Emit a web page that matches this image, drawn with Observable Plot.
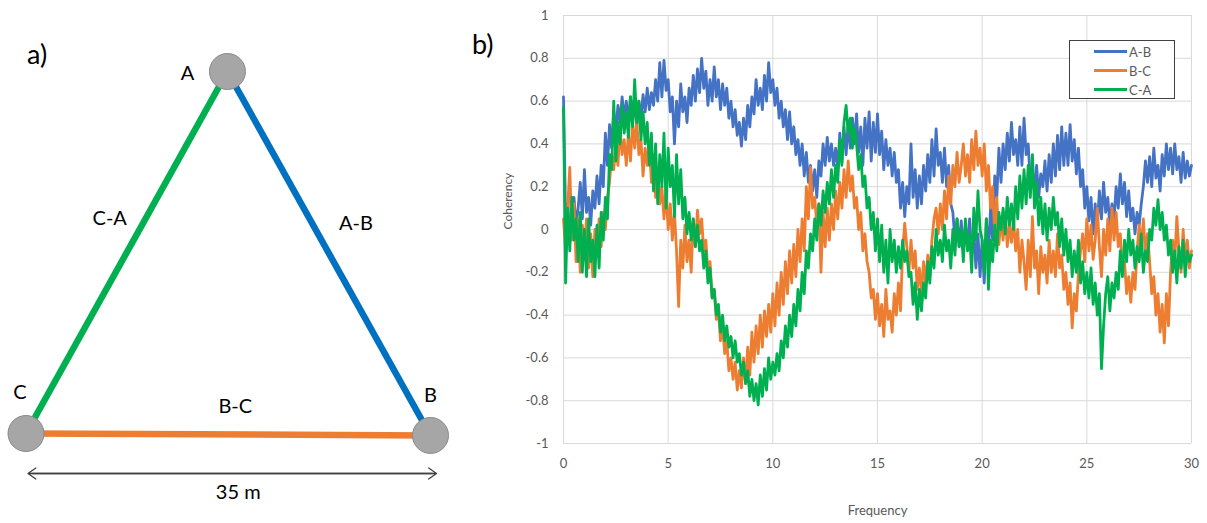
<!DOCTYPE html>
<html><head><meta charset="utf-8">
<script src="https://cdn.jsdelivr.net/npm/d3@7"></script>
<script src="https://cdn.jsdelivr.net/npm/@observablehq/plot@0.6"></script>
<style>
body{margin:0;background:#fff;font-family:Lato,"Open Sans",sans-serif;}
#wrap{position:relative;width:1207px;height:523px;overflow:hidden;background:#fff;}
#panelA{position:absolute;left:0;top:0;}
#panelB{position:absolute;left:470px;top:0;}
.plabel{position:absolute;font-size:27px;color:#000;line-height:1;}
#legend{position:absolute;left:1069px;top:40px;width:106px;height:59px;border:1.5px solid #404040;box-sizing:border-box;background:#fff;}
.lrow{position:absolute;left:0;height:19px;display:flex;align-items:center;font-size:13px;color:#595959;}
.lrow span.sw{display:inline-block;width:33px;height:3px;margin-left:24px;margin-right:2px;}
</style></head>
<body>
<div id="wrap">
  <div id="panelA"></div>
  <div id="panelB"></div>
  <div class="plabel" style="left:27px;top:40px;">a)</div>
  <div class="plabel" style="left:472px;top:30px;">b)</div>
  <div id="legend"></div>
</div>
<script>
// ---------- Panel b data: coherency vs frequency (0 to 30, step 0.1) ----------
const freqStep = 0.1;
const xTicks = [0, 5, 10, 15, 20, 25, 30];
const yTicks = [-1, -0.8, -0.6, -0.4, -0.2, 0, 0.2, 0.4, 0.6, 0.8, 1];
const seriesNames = ["A-B", "B-C", "C-A"];
const seriesColors = ["#4472c4", "#ed7d31", "#00b050"];

const cohAB = [
0.62,0.05,0.12,-0.05,0.08,0.15,0.02,0.10,0.22,0.05,
0.28,0.08,0.15,0.02,0.18,0.10,0.25,0.12,0.30,0.20,
0.45,0.30,0.49,0.38,0.55,0.45,0.58,0.50,0.62,0.52,
0.60,0.50,0.62,0.52,0.58,0.48,0.60,0.52,0.63,0.55,
0.66,0.56,0.64,0.58,0.70,0.60,0.78,0.62,0.79,0.65,
0.70,0.55,0.62,0.40,0.60,0.48,0.68,0.55,0.62,0.50,
0.66,0.58,0.72,0.60,0.75,0.64,0.80,0.66,0.74,0.58,
0.70,0.60,0.76,0.62,0.70,0.56,0.68,0.58,0.66,0.52,
0.60,0.48,0.56,0.44,0.50,0.39,0.52,0.42,0.58,0.48,
0.62,0.54,0.70,0.58,0.66,0.56,0.72,0.60,0.78,0.64,
0.70,0.58,0.66,0.52,0.60,0.48,0.56,0.42,0.55,0.40,
0.48,0.35,0.42,0.30,0.40,0.25,0.36,0.22,0.30,0.18,
0.28,0.15,0.32,0.25,0.40,0.30,0.43,0.32,0.40,0.30,
0.38,0.28,0.45,0.32,0.48,0.35,0.50,0.38,0.52,0.40,
0.54,0.36,0.48,0.30,0.52,0.38,0.55,0.32,0.50,0.36,
0.54,0.35,0.46,0.28,0.42,0.30,0.38,0.25,0.36,0.22,
0.28,0.10,0.22,0.06,0.20,0.12,0.40,0.15,0.28,0.10,
0.25,0.12,0.30,0.18,0.35,0.22,0.42,0.25,0.47,0.30,
0.36,0.22,0.38,0.20,0.30,0.12,0.08,-0.05,0.05,-0.08,
0.04,-0.10,0.02,-0.08,0.05,-0.12,0.00,-0.18,-0.02,-0.22,
-0.05,-0.25,0.05,-0.12,0.10,-0.05,0.25,0.15,0.38,0.22,
0.40,0.28,0.45,0.32,0.50,0.35,0.42,0.30,0.48,0.30,
0.52,0.35,0.40,0.22,0.28,0.18,0.30,0.15,0.26,0.20,
0.32,0.18,0.35,0.22,0.40,0.25,0.44,0.28,0.48,0.30,
0.45,0.30,0.49,0.32,0.42,0.26,0.38,0.20,0.28,0.10,
0.20,0.04,0.15,-0.02,0.12,0.02,0.18,0.05,0.22,0.08,
0.15,0.02,0.12,0.05,0.20,0.10,0.26,0.12,0.22,0.06,
0.18,0.04,0.10,-0.02,0.08,0.02,0.12,0.20,0.32,0.22,
0.34,0.20,0.38,0.24,0.30,0.18,0.35,0.25,0.40,0.28,
0.38,0.26,0.40,0.28,0.34,0.22,0.36,0.24,0.32,0.25,
0.30];

const cohBC = [
0.05,-0.10,0.10,0.29,-0.05,0.12,-0.15,0.05,-0.20,0.02,
-0.10,0.05,-0.18,-0.02,-0.22,0.00,-0.12,0.05,-0.08,0.08,
0.00,0.15,0.22,0.35,0.28,0.40,0.30,0.48,0.35,0.42,
0.30,0.45,0.32,0.50,0.38,0.51,0.35,0.42,0.25,0.38,
0.30,0.40,0.22,0.35,0.15,0.28,0.12,0.20,0.05,0.18,
0.00,0.12,-0.05,0.08,-0.10,-0.36,-0.05,-0.18,0.02,-0.15,
-0.05,-0.20,0.05,-0.08,0.09,-0.02,0.05,-0.10,-0.05,-0.20,
-0.15,-0.32,-0.28,-0.42,-0.38,-0.52,-0.45,-0.58,-0.52,-0.66,
-0.60,-0.70,-0.62,-0.75,-0.66,-0.74,-0.60,-0.72,-0.55,-0.68,
-0.48,-0.62,-0.45,-0.58,-0.40,-0.55,-0.38,-0.50,-0.35,-0.48,
-0.30,-0.45,-0.25,-0.40,-0.20,-0.35,-0.15,-0.30,-0.10,-0.25,
-0.07,-0.22,0.00,-0.15,0.05,-0.10,0.20,0.05,0.29,0.10,
0.15,0.02,0.12,-0.20,0.08,-0.08,0.10,-0.05,0.12,0.00,
0.18,0.05,0.22,0.10,0.28,0.15,0.32,0.18,0.25,0.10,
0.15,0.00,0.08,-0.10,-0.02,-0.15,-0.20,-0.32,-0.28,-0.42,
-0.30,-0.45,-0.35,-0.50,-0.28,-0.42,-0.38,-0.48,-0.30,-0.40,
-0.25,-0.38,-0.10,0.03,-0.08,-0.20,-0.05,-0.18,-0.10,-0.28,
-0.18,-0.30,-0.15,-0.25,-0.12,-0.22,-0.05,0.05,0.10,-0.02,
0.12,0.00,0.18,0.05,0.25,0.12,0.30,0.20,0.36,0.22,
0.30,0.40,0.25,0.35,0.22,0.42,0.28,0.46,0.30,0.38,
0.25,0.40,0.18,0.30,0.10,0.20,-0.02,0.15,-0.07,0.05,
-0.05,0.08,-0.08,0.02,-0.06,0.05,-0.10,0.00,-0.20,-0.05,
-0.15,-0.28,-0.05,-0.22,0.06,-0.18,-0.10,-0.30,-0.08,-0.20,
-0.12,-0.25,-0.05,-0.20,-0.10,-0.22,-0.02,-0.18,-0.12,-0.28,
-0.20,-0.35,-0.25,-0.46,-0.30,-0.38,-0.20,-0.10,-0.02,-0.15,
0.05,-0.10,0.02,-0.14,-0.05,0.10,-0.08,-0.22,0.00,-0.12,
0.05,-0.10,0.10,-0.05,0.08,-0.08,-0.02,-0.20,-0.15,-0.30,
-0.22,-0.34,-0.20,-0.28,-0.10,0.02,-0.08,0.05,-0.12,-0.02,
-0.15,-0.30,-0.22,-0.40,-0.30,-0.48,-0.35,-0.53,-0.30,-0.45,
-0.20,-0.05,-0.15,0.06,-0.10,-0.20,0.00,-0.15,-0.05,-0.18,
-0.10];

const cohCA = [
0.57,-0.25,0.10,-0.10,0.15,-0.05,0.05,-0.15,0.08,-0.20,
0.00,-0.22,0.05,-0.15,-0.05,-0.22,0.02,-0.18,0.08,-0.05,
0.15,0.05,0.35,0.28,0.60,0.32,0.50,0.40,0.58,0.45,
0.55,0.43,0.62,0.48,0.70,0.50,0.60,0.42,0.55,0.40,
0.50,0.30,0.45,0.18,0.40,0.12,0.35,0.20,0.45,0.10,
0.38,0.20,0.30,0.06,0.35,0.12,0.28,0.05,0.15,-0.02,
0.08,-0.05,0.05,-0.08,0.02,-0.10,-0.05,-0.18,-0.10,-0.25,
-0.18,-0.32,-0.28,-0.40,-0.35,-0.48,-0.40,-0.52,-0.45,-0.55,
-0.50,-0.60,-0.52,-0.62,-0.58,-0.68,-0.62,-0.72,-0.66,-0.78,
-0.70,-0.80,-0.72,-0.82,-0.68,-0.78,-0.65,-0.75,-0.60,-0.70,
-0.62,-0.68,-0.58,-0.66,-0.52,-0.60,-0.45,-0.55,-0.40,-0.50,
-0.35,-0.45,-0.28,-0.38,-0.20,-0.30,-0.10,-0.18,-0.02,-0.10,
0.05,-0.05,0.12,0.02,0.18,0.08,0.22,0.12,0.28,0.15,
0.30,0.22,0.42,0.30,0.50,0.58,0.45,0.52,0.38,0.48,
0.40,0.28,0.35,0.20,0.25,0.10,0.15,0.00,0.08,-0.10,
0.05,-0.15,0.02,-0.20,-0.05,-0.25,0.00,-0.15,-0.05,-0.20,
-0.08,-0.18,-0.05,-0.15,-0.10,-0.22,-0.20,-0.35,-0.25,-0.42,
-0.28,-0.38,-0.25,-0.32,-0.15,-0.25,-0.08,-0.18,0.00,-0.12,
-0.05,-0.15,0.02,-0.10,-0.05,-0.18,0.00,-0.12,0.05,-0.08,
0.00,-0.15,0.05,-0.10,-0.02,-0.20,0.10,-0.05,0.18,0.00,
-0.05,-0.20,0.05,-0.28,-0.05,-0.15,0.02,-0.10,0.08,0.00,
0.10,-0.02,0.15,0.02,0.12,0.00,0.20,0.05,0.25,0.10,
0.28,0.12,0.30,0.15,0.35,0.10,0.22,0.02,0.15,-0.02,
0.12,-0.05,0.10,0.00,0.15,0.02,0.08,-0.08,0.05,-0.12,
0.00,-0.15,-0.05,-0.22,-0.10,-0.20,-0.05,-0.25,-0.15,-0.30,
-0.20,-0.32,-0.18,-0.35,-0.25,-0.40,-0.30,-0.65,-0.45,-0.30,
-0.22,-0.38,-0.25,-0.32,-0.20,-0.28,-0.10,-0.22,-0.05,-0.15,
0.00,-0.12,-0.05,-0.18,-0.08,-0.15,-0.02,-0.20,-0.10,-0.15,
0.00,-0.05,0.10,0.02,0.14,0.00,0.08,-0.05,0.02,-0.12,
-0.05,-0.20,-0.10,-0.25,-0.08,-0.18,-0.05,-0.22,-0.10,-0.15,
-0.12];

// ---------- Panel a data: station layout (metres) ----------
const stationNames = ["A", "B", "C"];
const stationX = [17.43, 35, 0];
const stationY = [31.3, -0.17, 0];
const edgeNames = ["C-A", "A-B", "B-C"];
const edgeFrom = ["C", "A", "B"];
const edgeTo = ["A", "B", "C"];
const baselineLength = 35; // m

// ---------- styles ----------
const edgeColors = {"C-A": "#00b050", "A-B": "#0070c0", "B-C": "#ed7d31"};
const nodeLabelOffset = {A: [-40, 2], B: [0, -40], C: [-6, -41]};
const edgeLabelOffset = {"C-A": [-17, -34], "A-B": [27, -30], "B-C": [7, -28]};

// ---------- Panel a ----------
const stations = stationNames.map((n, i) => ({name: n, x: stationX[i], y: stationY[i]}));
const byName = Object.fromEntries(stations.map(s => [s.name, s]));
const edges = edgeNames.map((n, i) => ({name: n, a: byName[edgeFrom[i]], b: byName[edgeTo[i]]}));
const dimY = byName.C.y;

const marksA = [
  Plot.link(edges, {x1: d => d.a.x, y1: d => d.a.y, x2: d => d.b.x, y2: d => d.b.y,
    stroke: d => edgeColors[d.name], strokeWidth: 6.5, strokeLinecap: "butt"}),
  // dimension arrow: two overlapping arrows, one head at each end
  Plot.arrow([0], {x1: () => byName.B.x, y1: () => dimY, x2: () => byName.C.x, y2: () => dimY, dx: 2, dy: 40,
    stroke: "#404040", strokeWidth: 1.3, headLength: 11, headAngle: 70}),
  Plot.arrow([0], {x1: () => byName.C.x, y1: () => dimY, x2: () => byName.B.x, y2: () => dimY, dx: 6, dy: 40,
    stroke: "#404040", strokeWidth: 1.3, headLength: 11, headAngle: 70}),
  Plot.text([baselineLength], {x: d => d / 2, y: () => dimY, dx: 10, dy: 59,
    text: d => `${d} m`, fontSize: 20, fill: "#000"}),
  Plot.dot(stations, {x: "x", y: "y", r: 18, fill: "#a6a6a6", stroke: "#8a8a8a", strokeWidth: 1})
];
for (const s of stations) {
  const [dx, dy] = nodeLabelOffset[s.name];
  marksA.push(Plot.text([s], {x: "x", y: "y", text: "name", dx, dy, fontSize: 20, fill: "#000"}));
}
for (const e of edges) {
  const [dx, dy] = edgeLabelOffset[e.name];
  marksA.push(Plot.text([e], {x: d => (d.a.x + d.b.x) / 2, y: d => (d.a.y + d.b.y) / 2,
    text: "name", dx, dy, fontSize: 20, fill: "#000"}));
}

const plotA = Plot.plot({
  width: 470, height: 523, margin: 0,
  x: {domain: [0, 35], range: [25.5, 430], axis: null},
  y: {domain: [0, 31.3], range: [433, 71], axis: null},
  color: {type: "identity"},
  style: {fontFamily: "Lato, 'Open Sans', sans-serif", background: "transparent", overflow: "visible"},
  marks: marksA
});
document.getElementById("panelA").appendChild(plotA);

// ---------- Panel b ----------
const allSeries = [cohAB, cohBC, cohCA];
const rows = [];
seriesNames.forEach((name, k) => {
  allSeries[k].forEach((v, i) => rows.push({series: name, f: +(i * freqStep).toFixed(1), v}));
});

const plotB = Plot.plot({
  width: 737, height: 523,
  marginLeft: 93, marginRight: 16, marginTop: 15, marginBottom: 80,
  x: {domain: [0, 30]},
  y: {domain: [-1, 1]},
  color: {domain: seriesNames, range: seriesColors},
  style: {fontFamily: "Lato, 'Open Sans', sans-serif", fontSize: "13px", color: "#595959", background: "transparent"},
  marks: [
    Plot.gridX(xTicks, {stroke: "#d9d9d9", strokeOpacity: 1, strokeWidth: 1}),
    Plot.gridY(yTicks, {stroke: "#d9d9d9", strokeOpacity: 1, strokeWidth: 1}),
    Plot.axisX(xTicks, {tickSize: 0, tickPadding: 15, label: null, tickFormat: d => String(d), fontSize: 13}),
    Plot.axisY(yTicks, {tickSize: 0, tickPadding: 15, label: null, tickFormat: d => String(d), fontSize: 13}),
    Plot.line(rows, {x: "f", y: "v", z: "series", stroke: "series", strokeWidth: 2.8}),
    Plot.text(["Coherency"], {text: d => d, frameAnchor: "left", dx: -55, rotate: -90, fontSize: 12, fill: "#595959"}),
    Plot.text(["Frequency"], {text: d => d, frameAnchor: "bottom", dy: 71, fontSize: 13, fill: "#595959"})
  ]
});
document.getElementById("panelB").appendChild(plotB);

// ---------- Legend ----------
const legend = document.getElementById("legend");
seriesNames.forEach((name, k) => {
  const row = document.createElement("div");
  row.className = "lrow";
  row.style.top = (1 + k * 19) + "px";
  const sw = document.createElement("span");
  sw.className = "sw";
  sw.style.background = seriesColors[k];
  row.appendChild(sw);
  row.appendChild(document.createTextNode(name));
  legend.appendChild(row);
});
</script>
</body></html>
